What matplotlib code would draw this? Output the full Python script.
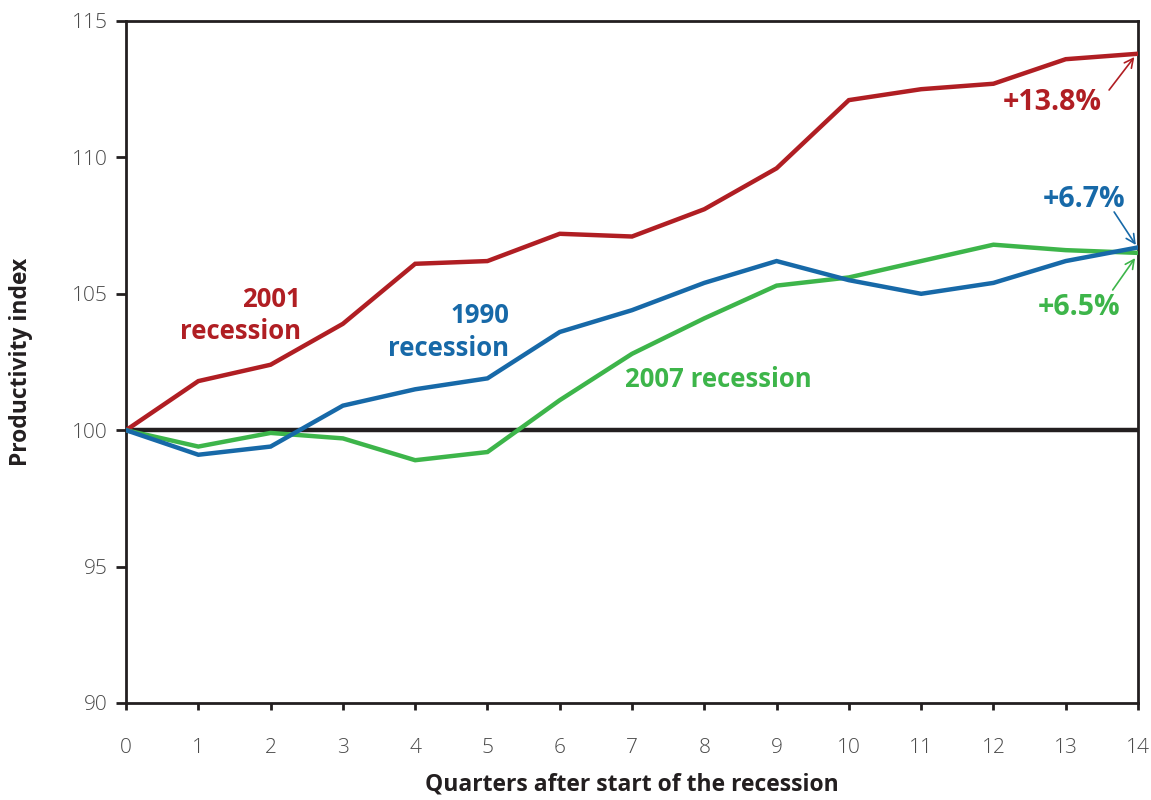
import matplotlib
matplotlib.use("Agg")
import matplotlib.pyplot as plt

quarters = list(range(15))
rec_2001 = [100, 101.8, 102.4, 103.9, 106.1, 106.2, 107.2, 107.1, 108.1, 109.6, 112.1, 112.5, 112.7, 113.6, 113.8]
rec_1990 = [100, 99.1, 99.4, 100.9, 101.5, 101.9, 103.6, 104.4, 105.4, 106.2, 105.5, 105.0, 105.4, 106.2, 106.7]
rec_2007 = [100, 99.4, 99.9, 99.7, 98.9, 99.2, 101.1, 102.8, 104.1, 105.3, 105.6, 106.2, 106.8, 106.6, 106.5]
x_ticks = list(range(15))
y_ticks = [90, 95, 100, 105, 110, 115]

RED = "#B01E23"
BLUE = "#1769A8"
GREEN = "#3DB54A"
FONT = ["Open Sans", "DejaVu Sans"]

plt.rcParams['font.family'] = FONT

fig = plt.figure(figsize=(11.51, 8.0), dpi=100)
ax = fig.add_axes([0.1095, 0.12125, 0.8792, 0.8525])

ax.axhline(100, color="#231F20", lw=3.2, zorder=2)
ax.plot(quarters, rec_2001, color=RED, lw=3.2, zorder=3, solid_joinstyle="miter")
ax.plot(quarters, rec_2007, color=GREEN, lw=3.2, zorder=3, solid_joinstyle="miter")
ax.plot(quarters, rec_1990, color=BLUE, lw=3.2, zorder=4, solid_joinstyle="miter")

ax.set_xlim(0, 14)
ax.set_ylim(90, 115)
ax.set_xticks(x_ticks)
ax.set_yticks(y_ticks)
for s in ax.spines.values():
    s.set_color("#231F20")
    s.set_linewidth(2)
ax.tick_params(axis="x", direction="out", length=5, width=2, color="#231F20",
               labelsize=15, labelcolor="#4a4a4a", pad=20)
ax.tick_params(axis="y", direction="out", length=7, width=2, color="#231F20",
               labelsize=15, labelcolor="#4a4a4a", pad=6)
for lab in ax.get_xticklabels() + ax.get_yticklabels():
    lab.set_fontweight("light")

ax.set_xlabel("Quarters after start of the recession", fontsize=16.5, fontweight="bold",
              color="#231F20", labelpad=11)
ax.set_ylabel("Productivity index", fontsize=16.5, fontweight="bold", color="#231F20", labelpad=28)

tkw = dict(fontsize=18.5, fontweight="bold", linespacing=1.25)
ax.text(2.42, 104.2, "2001\nrecession", color=RED, ha="right", va="center", multialignment="right", **tkw)
ax.text(5.30, 103.6, "1990\nrecession", color=BLUE, ha="right", va="center", multialignment="right", **tkw)
ax.text(8.2, 101.85, "2007 recession", color=GREEN, ha="center", va="center", **tkw)

pkw = dict(fontsize=20.5, fontweight="bold")
ax.text(12.82, 112.0, "+13.8%", color=RED, ha="center", va="center", **pkw)
ax.text(13.25, 108.47, "+6.7%", color=BLUE, ha="center", va="center", **pkw)
ax.text(13.18, 104.48, "+6.5%", color=GREEN, ha="center", va="center", **pkw)

akw = dict(arrowstyle="->", lw=1.2, mutation_scale=16, shrinkA=0, shrinkB=0)
ax.annotate("", xy=(13.95, 113.68), xytext=(13.6, 112.47), arrowprops=dict(color=RED, **akw))
ax.annotate("", xy=(13.97, 106.79), xytext=(13.67, 108.0), arrowprops=dict(color=BLUE, **akw))
ax.annotate("", xy=(13.96, 106.31), xytext=(13.65, 105.14), arrowprops=dict(color=GREEN, **akw))

fig.savefig("out.png", dpi=100)
